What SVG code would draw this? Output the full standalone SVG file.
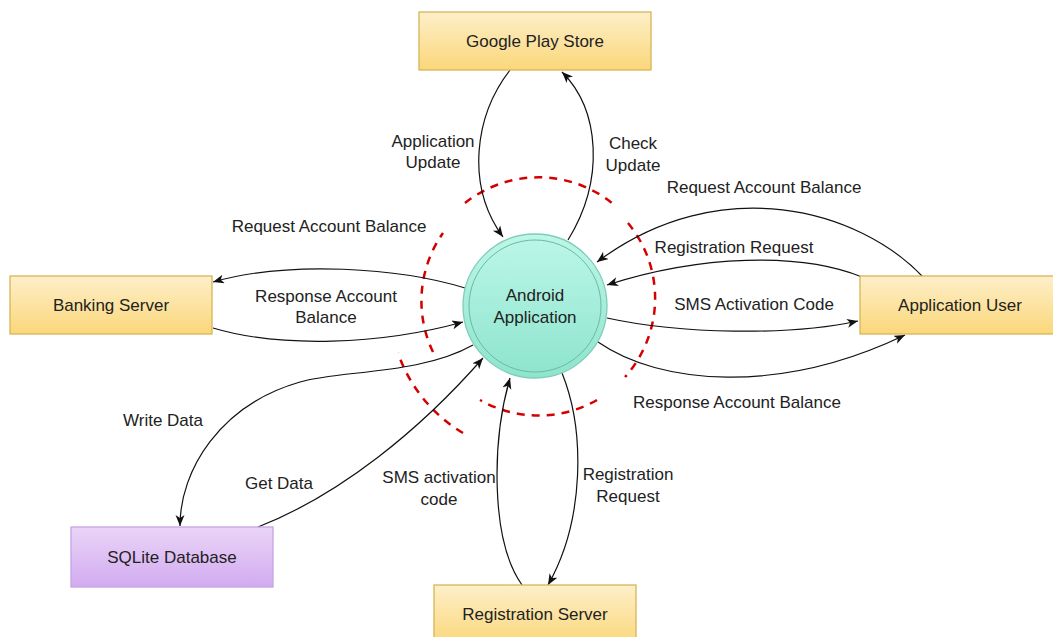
<svg xmlns="http://www.w3.org/2000/svg" width="1053" height="637" viewBox="0 0 1053 637">
<style>
  text { font-family: "Liberation Sans", Arial, sans-serif; font-size: 17px; fill: #222; text-anchor: middle; }
  .box { stroke: #d6b656; stroke-width: 1.3; }
  .edge { fill: none; stroke: #111; stroke-width: 1.2; marker-end: url(#arr); }
  .plain { fill: none; stroke: #111; stroke-width: 1.2; }
  .dash { fill: none; stroke: #d40000; stroke-width: 2.5; stroke-dasharray: 8 7; }
</style>
<defs>
  <linearGradient id="yel" x1="0" y1="0" x2="0" y2="1">
    <stop offset="0" stop-color="#fdefc9"/>
    <stop offset="1" stop-color="#fbd77a"/>
  </linearGradient>
  <linearGradient id="pur" x1="0" y1="0" x2="0" y2="1">
    <stop offset="0" stop-color="#ead5f8"/>
    <stop offset="1" stop-color="#d2abf0"/>
  </linearGradient>
  <linearGradient id="teal" x1="0" y1="0" x2="0" y2="1">
    <stop offset="0" stop-color="#bcf7e8"/>
    <stop offset="1" stop-color="#8de4cd"/>
  </linearGradient>
  <marker id="arr" markerUnits="userSpaceOnUse" markerWidth="12" markerHeight="10" refX="11" refY="4.5" orient="auto">
    <path d="M0,0 L11,4.5 L0,9 L3,4.5 Z" fill="#111"/>
  </marker>
</defs>

<g id="boundary">
  <path class="dash" d="M465,203 A118,118 0 0 1 612,203"/>
  <path class="dash" d="M628,223 A118,118 0 0 1 625,377"/>
  <path class="dash" d="M597,400 A118,118 0 0 1 480,400"/>
  <path class="dash" d="M433,352 A118,118 0 0 1 443,233"/>
  <path class="dash" d="M463,433 A150,150 0 0 1 398,353"/>
</g>

<g id="connectors">
  <path id="e-appupdate" class="edge" d="M510,70 C475,115 465,185 503,237"/>
  <path id="e-checkupdate" class="edge" d="M568,240 C605,180 600,110 562,72"/>
  <path id="e-reqbal-bank" class="edge" d="M465,288 C400,268 290,260 213,282"/>
  <path id="e-respbal-bank" class="edge" d="M213,328 C280,348 380,345 463,322"/>
  <path id="e-write" class="edge" d="M473,345 C420,375 340,370 300,382 C220,405 180,470 180,526"/>
  <path id="e-get" class="edge" d="M258,527 C340,495 420,430 483,358"/>
  <path id="e-sms-reg" class="edge" d="M522,585 C490,540 492,440 510,378"/>
  <path id="e-regreq-reg" class="edge" d="M562,373 C585,430 585,520 548,585"/>
  <path id="e-reqbal-user" class="edge" d="M923,277 C860,210 720,170 597,262"/>
  <path id="e-regreq-user" class="edge" d="M862,277 C800,252 700,255 607,285"/>
  <path id="e-sms-user" class="edge" d="M607,318 C680,334 790,336 858,321"/>
  <path id="e-respbal-user" class="edge" d="M598,342 C660,385 780,395 905,335"/>
</g>

<g id="edge-labels">
  <text x="433" y="147">Application</text>
  <text x="433" y="168">Update</text>
  <text x="633" y="149">Check</text>
  <text x="633" y="171">Update</text>
  <text x="329" y="232">Request Account Balance</text>
  <text x="326" y="302">Response Account</text>
  <text x="326" y="323">Balance</text>
  <text x="163" y="426">Write Data</text>
  <text x="279" y="489">Get Data</text>
  <text x="439" y="483">SMS activation</text>
  <text x="439" y="505">code</text>
  <text x="628" y="480">Registration</text>
  <text x="628" y="502">Request</text>
  <text x="764" y="193">Request Account Balance</text>
  <text x="734" y="253">Registration Request</text>
  <text x="754" y="310">SMS Activation Code</text>
  <text x="737" y="408">Response Account Balance</text>
</g>

<g id="google-play-store">
  <rect class="box" x="419" y="12" width="232" height="58" fill="url(#yel)"/>
  <text x="535" y="47">Google Play Store</text>
</g>
<g id="banking-server">
  <rect class="box" x="10" y="276" width="202" height="58" fill="url(#yel)"/>
  <text x="111" y="311">Banking Server</text>
</g>
<g id="sqlite-database">
  <rect x="71" y="527" width="202" height="60" fill="url(#pur)" stroke="#c6a3e3" stroke-width="1.3"/>
  <text x="172" y="563">SQLite Database</text>
</g>
<g id="registration-server">
  <rect class="box" x="434" y="585" width="202" height="60" fill="url(#yel)"/>
  <text x="535" y="620">Registration Server</text>
</g>
<g id="application-user">
  <rect class="box" x="860" y="276" width="200" height="58" fill="url(#yel)"/>
  <text x="960" y="311">Application User</text>
</g>
<g id="android-application">
  <circle cx="535" cy="306" r="72" fill="url(#teal)" stroke="#80cdb6" stroke-width="1.3"/>
  <circle cx="535" cy="306" r="66" fill="none" stroke="#6fb8a2" stroke-width="1"/>
  <text x="535" y="301">Android</text>
  <text x="535" y="323">Application</text>
</g>
</svg>
